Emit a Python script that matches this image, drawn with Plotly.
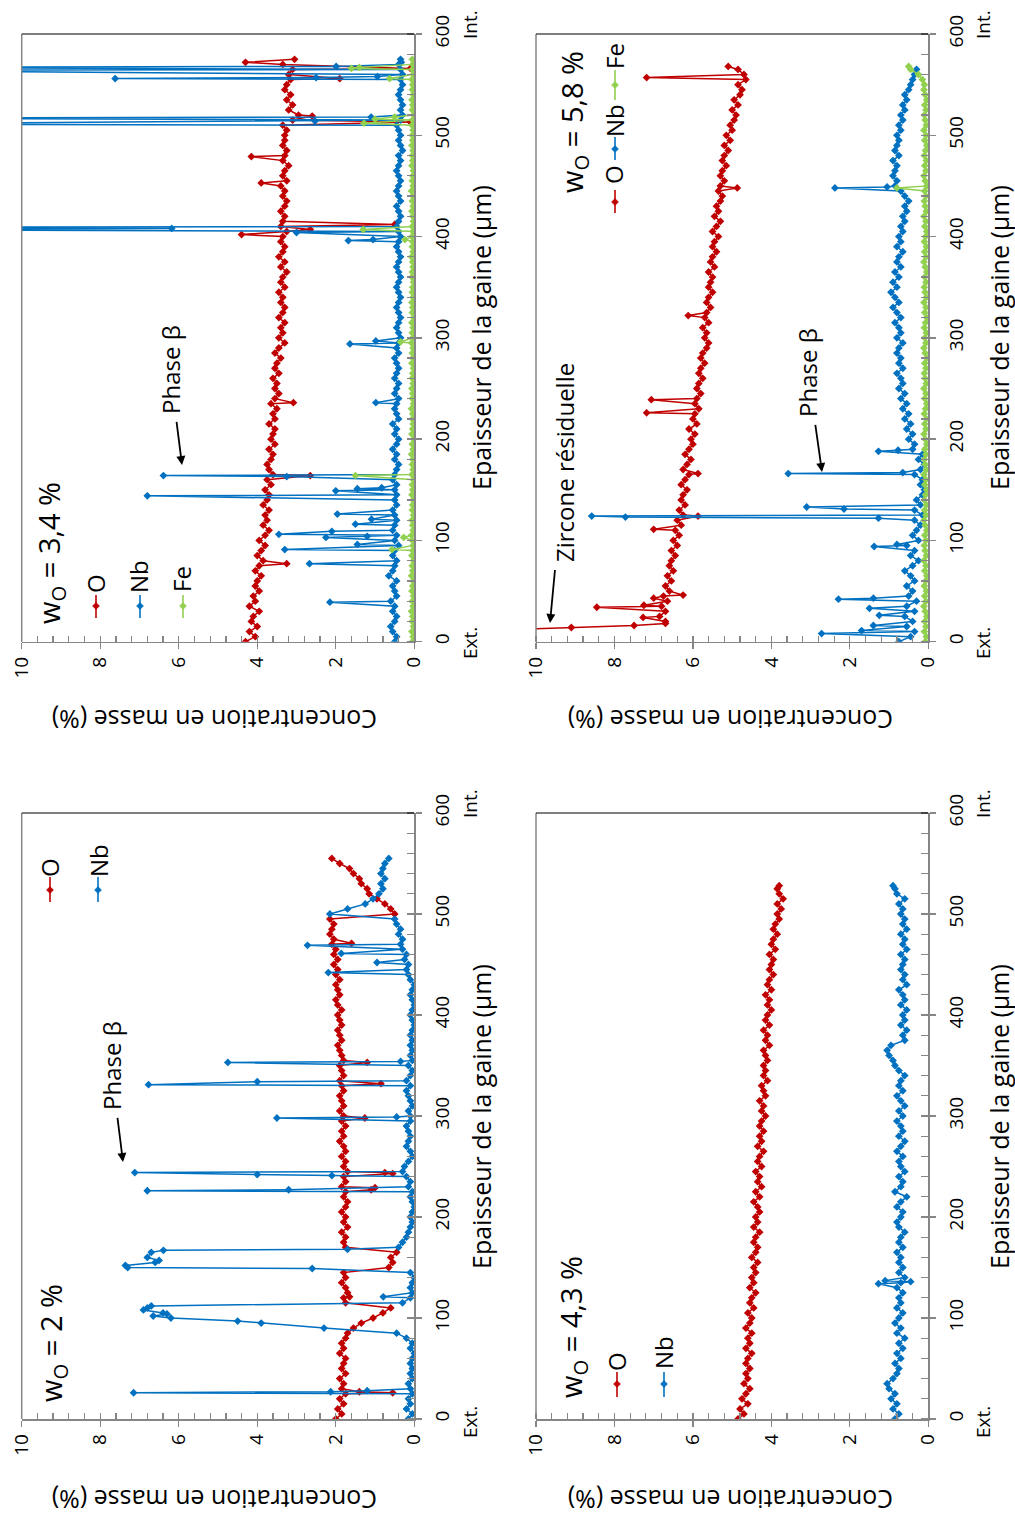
import plotly.graph_objects as go

FONT = "Open Sans"
OFF = 0
W, H = 1015, 1521
C_O, C_NB, C_FE = "#C00000", "#0070C0", "#92D050"

# ---------------- DATA ----------------
# Panel A : w_O = 3,4 %  (thickness grid 0..575 step 5)
T_A = list(range(0, 580, 5))
O_A = [4.30, 4.05, 4.20, 4.00, 4.15, 4.10, 3.95, 4.20, 4.05, 4.10,
       3.95, 4.05, 4.00, 3.90, 4.05, 3.95, 3.85, 4.00, 3.90, 3.80,
       3.95, 3.80, 3.70, 3.85, 3.75, 3.80, 3.70, 3.85, 3.75, 3.70,
       3.80, 3.65, 3.75, 3.60, 3.70, 3.75, 3.65, 3.60, 3.70, 3.55,
       3.65, 3.60, 3.55, 3.70, 3.55, 3.60, 3.50, 3.65, 3.55, 3.45,
       3.55, 3.50, 3.60, 3.45, 3.55, 3.50, 3.40, 3.55, 3.45, 3.30,
       3.45, 3.35, 3.40, 3.30, 3.45, 3.35, 3.30, 3.40, 3.35, 3.45,
       3.30, 3.40, 3.35, 3.25, 3.40, 3.30, 3.45, 3.35, 3.30, 3.40,
       3.35, 3.25, 3.40, 3.35, 3.30, 3.40, 3.30, 3.25, 3.35, 3.30,
       3.40, 3.25, 3.35, 3.30, 3.20, 3.35, 3.30, 3.25, 3.35, 3.30,
       3.30, 3.25, 3.35, 3.10, 2.95, 3.20, 3.10, 3.25, 3.15, 3.30,
       3.25, 3.15, 3.20, 3.10, 3.35, 3.05]
O_A_SPK = [(77, 3.25), (164, 2.65), (236, 3.08), (402, 4.4), (407, 2.65), (412, 0.5),
           (453, 3.9), (479, 4.15), (513, 0.1), (519, 2.6), (556, 1.9), (566, 0.1), (572, 4.3)]
NB_A = [0.50, 0.45, 0.55, 0.60, 0.50, 0.45, 0.55, 0.50, 0.60, 0.45,
        0.50, 0.55, 0.45, 0.65, 0.55, 0.50, 0.45, 0.55, 0.50, 0.40,
        0.50, 0.45, 0.55, 0.50, 0.45, 0.50, 0.55, 0.45, 0.50, 0.45,
        0.50, 0.45, 0.55, 0.50, 0.45, 0.40, 0.50, 0.45, 0.55, 0.45,
        0.40, 0.50, 0.45, 0.55, 0.40, 0.45, 0.50, 0.45, 0.40, 0.50,
        0.45, 0.40, 0.50, 0.45, 0.40, 0.45, 0.50, 0.40, 0.45, 0.40,
        0.35, 0.40, 0.45, 0.40, 0.35, 0.40, 0.45, 0.40, 0.35, 0.40,
        0.45, 0.40, 0.35, 0.40, 0.45, 0.40, 0.35, 0.40, 0.45, 0.40,
        0.35, 0.40, 0.45, 0.40, 0.35, 0.40, 0.45, 0.35, 0.40, 0.45,
        0.40, 0.35, 0.40, 0.45, 0.40, 0.35, 0.40, 0.30, 0.35, 0.40,
        0.35, 0.40, 0.45, 0.35, 0.30, 0.35, 0.30, 0.35, 0.40, 0.35,
        0.30, 0.35, 0.30, 0.35, 0.40, 0.35]
NB_A_SPK = [(39, 2.15), (77, 2.67), (91, 3.3), (96, 1.45), (103, 2.25), (104, 1.2), (106, 3.45),
            (109, 2.1), (116, 1.5), (121, 1.09), (126, 1.96), (144, 6.8), (149, 2.0), (151, 1.45),
            (152, 0.83), (163, 3.25), (164, 6.39), (236, 0.98), (294, 1.64), (297, 0.98),
            (396, 1.68), (397, 1.05), (404, 3.0), (407, 15), (408, 6.18), (409, 15),
            (511, 15), (514, 2.53), (517, 15), (518, 1.1), (556, 7.62), (557, 2.5), (558, 0.94),
            (564, 15), (567, 15), (568, 1.99), (572, 0.33)]
FE_A = [0.05, 0.03, 0.06, 0.02, 0.05, 0.04, 0.07, 0.03, 0.05, 0.02,
        0.06, 0.04, 0.03, 0.07, 0.04, 0.05, 0.02, 0.06, 0.04, 0.03,
        0.05, 0.07, 0.03, 0.04, 0.06, 0.02, 0.05, 0.04, 0.03, 0.06,
        0.04, 0.05, 0.02, 0.06, 0.03, 0.05, 0.04, 0.07, 0.03, 0.05,
        0.02, 0.06, 0.04, 0.03, 0.05, 0.04, 0.07, 0.02, 0.05, 0.04,
        0.06, 0.03, 0.05, 0.04, 0.02, 0.06, 0.04, 0.05, 0.03, 0.07,
        0.04, 0.05, 0.03, 0.06, 0.02, 0.05, 0.04, 0.06, 0.03, 0.05,
        0.04, 0.02, 0.06, 0.05, 0.03, 0.04, 0.07, 0.03, 0.05, 0.04,
        0.06, 0.03, 0.05, 0.02, 0.04, 0.06, 0.03, 0.05, 0.04, 0.07,
        0.03, 0.05, 0.04, 0.02, 0.06, 0.04, 0.05, 0.03, 0.06, 0.04,
        0.05, 0.03, 0.06, 0.04, 0.02, 0.05, 0.04, 0.06, 0.03, 0.05,
        0.04, 0.06, 0.03, 0.05, 0.04, 0.05]
FE_A_SPK = [(91, 0.57), (103, 0.27), (164, 1.5), (296, 0.35), (397, 0.24), (407, 1.3),
            (512, 1.28), (516, 1.0), (518, 0.5), (556, 0.63), (566, 1.6), (567, 1.4)]

# Panel B : w_O = 2 %  (grid 0..555 step 5)
T_B = list(range(0, 560, 5))
O_B = [2.00, 1.85, 1.95, 1.80, 1.90, 1.75, 1.85, 1.80, 1.90, 1.75,
       1.85, 1.80, 1.75, 1.90, 1.80, 1.85, 1.75, 1.70, 1.55, 1.35,
       1.05, 0.80, 0.60, 1.75, 1.80, 1.70, 1.75, 1.85, 1.75, 1.80,
       0.65, 0.55, 0.60, 0.45, 1.75, 1.80, 1.75, 1.85, 1.70, 1.80,
       1.75, 1.85, 1.75, 1.70, 1.80, 1.75, 1.85, 1.75, 1.80, 1.70,
       1.80, 1.75, 1.85, 1.75, 1.80, 1.90, 1.80, 1.85, 1.75, 1.85,
       1.80, 1.90, 1.80, 1.85, 1.90, 1.80, 1.85, 1.90, 1.80, 1.85,
       1.90, 1.80, 1.85, 1.90, 1.95, 1.85, 1.90, 1.95, 1.85, 1.90,
       1.95, 1.85, 1.95, 2.00, 1.90, 1.95, 2.00, 1.90, 2.00, 1.95,
       2.05, 1.95, 2.05, 2.00, 2.10, 2.05, 2.15, 2.10, 2.05, 2.15,
       0.50, 0.60, 0.75, 0.95, 1.15, 1.20, 1.35, 1.40, 1.55, 1.65,
       1.90, 2.10]
O_B_SPK = [(26, 0.55), (27, 1.4), (121, 1.65), (227, 1.1), (229, 1.0), (243, 0.55),
           (244, 0.75), (298, 1.26), (332, 0.85), (353, 1.2), (471, 1.6)]
NB_B = [0.15, 0.05, 0.20, 0.10, 0.15, 0.05, 0.10, 0.15, 0.05, 0.10,
        0.05, 0.10, 0.05, 0.00, 0.10, 0.05, 0.20, 0.45, 2.30, 3.90,
        6.20, 6.40, 6.80, 0.30, 0.10, 0.05, 0.10, 0.05, 0.00, 0.10,
        7.30, 6.60, 6.80, 6.70, 0.40, 0.30, 0.20, 0.15, 0.10, 0.05,
        0.10, 0.05, 0.00, 0.05, 0.10, 0.05, 0.15, 0.10, 0.20, 0.30,
        0.25, 0.15, 0.05, 0.10, 0.20, 0.15, 0.10, 0.15, 0.20, 0.10,
        0.10, 0.15, 0.05, 0.10, 0.15, 0.20, 0.10, 0.20, 0.10, 0.05,
        0.15, 0.05, 0.10, 0.05, 0.10, 0.05, 0.10, 0.05, 0.00, 0.05,
        0.10, 0.05, 0.00, 0.05, 0.10, 0.05, 0.00, 0.10, 0.15, 0.20,
        0.15, 0.25, 0.20, 0.30, 0.35, 0.30, 0.40, 0.35, 0.45, 0.50,
        2.15, 1.70, 1.25, 1.05, 0.90, 0.80, 0.85, 0.75, 0.85, 0.80,
        0.75, 0.65]
NB_B_SPK = [(26, 7.15), (27, 2.13), (28, 1.2), (97, 4.5), (102, 6.65), (104, 6.3), (108, 6.9),
            (112, 6.7), (121, 0.79), (149, 2.6), (152, 7.36), (157, 6.5), (167, 6.39), (168, 1.7),
            (226, 6.8), (227, 3.2), (241, 2.1), (242, 4.0), (244, 7.12), (298, 3.5), (299, 0.45),
            (331, 6.77), (334, 4.0), (353, 4.75), (354, 0.35), (442, 2.19), (452, 0.95),
            (461, 1.86), (469, 2.72)]

# Panel C : w_O = 5,8 %
T_C_O = list(range(20, 570, 5))
O_C = [6.70, 6.85, 6.70, 6.80, 6.65, 6.75, 6.60, 6.70, 6.55, 6.65,
       6.50, 6.60, 6.55, 6.45, 6.55, 6.40, 6.50, 6.35, 6.45, 6.30,
       6.40, 6.25, 6.35, 6.20, 6.30, 6.25, 6.15, 6.30, 6.20, 6.10,
       6.25, 6.15, 6.05, 6.20, 6.10, 6.00, 6.05, 5.95, 6.10, 5.90,
       6.00, 5.95, 5.85, 5.95, 5.90, 5.80, 5.90, 5.85, 5.75, 5.85,
       5.80, 5.70, 5.80, 5.75, 5.65, 5.60, 5.70, 5.65, 5.75, 5.60,
       5.70, 5.65, 5.55, 5.65, 5.60, 5.50, 5.60, 5.55, 5.50, 5.60,
       5.45, 5.55, 5.50, 5.40, 5.50, 5.45, 5.35, 5.50, 5.40, 5.30,
       5.45, 5.35, 5.40, 5.30, 5.25, 5.35, 5.30, 5.20, 5.30, 5.25,
       5.15, 5.25, 5.20, 5.10, 5.20, 5.05, 5.15, 5.00, 5.05, 4.95,
       4.90, 5.00, 4.85, 4.95, 4.80, 4.75, 4.85, 4.65, 4.70, 4.85]
O_C_SPK = [(12, 10.5), (14, 9.1), (16, 7.5), (18, 6.7), (24, 7.27), (34, 8.45), (36, 7.25),
           (43, 7.0), (46, 6.25), (111, 7.0), (124, 5.87), (166, 5.87), (226, 7.18), (239, 7.06),
           (322, 6.12), (448, 4.87), (557, 7.18), (568, 5.1)]
T_C = list(range(0, 570, 5))
NB_C = [0.75, 0.45, 0.35, 0.55, 0.40, 0.60, 0.35, 0.55, 0.30, 0.50,
        0.40, 0.55, 0.35, 0.45, 0.60, 0.40, 0.25, 0.45, 0.35, 0.55,
        0.25, 0.40, 0.30, 0.20, 0.35, 0.15, 0.35, 0.20, 0.30, 0.15,
        0.10, 0.20, 0.15, 0.35, 0.20, 0.10, 0.25, 0.15, 0.40, 0.35,
        0.50, 0.40, 0.55, 0.45, 0.60, 0.50, 0.65, 0.55, 0.70, 0.60,
        0.75, 0.65, 0.70, 0.80, 0.65, 0.75, 0.70, 0.80, 0.75, 0.65,
        0.80, 0.70, 0.75, 0.85, 0.70, 0.80, 0.90, 0.75, 0.85, 0.95,
        0.80, 0.90, 0.75, 0.85, 0.70, 0.80, 0.75, 0.65, 0.80, 0.70,
        0.75, 0.65, 0.70, 0.60, 0.65, 0.55, 0.60, 0.50, 0.60, 0.70,
        0.85, 0.80, 0.90, 0.85, 0.80, 0.90, 0.75, 0.85, 0.80, 0.75,
        0.80, 0.70, 0.75, 0.65, 0.70, 0.60, 0.65, 0.55, 0.60, 0.50,
        0.45, 0.40, 0.35, 0.30]
NB_C_SPK = [(8, 2.72), (11, 1.7), (16, 1.4), (26, 1.25), (33, 1.5), (42, 2.29), (43, 1.4),
            (94, 1.38), (96, 0.8), (122, 1.27), (123, 7.72), (124, 8.58), (131, 2.15), (133, 3.1),
            (166, 3.57), (167, 0.65), (188, 1.27), (189, 0.77), (448, 2.38), (449, 1.05)]
FE_C = [0.08, 0.05, 0.10, 0.06, 0.09, 0.04, 0.08, 0.11, 0.06, 0.09,
        0.05, 0.10, 0.07, 0.04, 0.09, 0.06, 0.11, 0.05, 0.08, 0.10,
        0.06, 0.09, 0.04, 0.08, 0.11, 0.06, 0.09, 0.05, 0.10, 0.07,
        0.04, 0.09, 0.06, 0.11, 0.05, 0.08, 0.10, 0.06, 0.09, 0.04,
        0.08, 0.11, 0.06, 0.09, 0.05, 0.10, 0.07, 0.04, 0.09, 0.06,
        0.11, 0.05, 0.08, 0.10, 0.06, 0.09, 0.04, 0.08, 0.11, 0.06,
        0.09, 0.05, 0.10, 0.07, 0.04, 0.09, 0.06, 0.11, 0.05, 0.08,
        0.10, 0.06, 0.09, 0.04, 0.08, 0.11, 0.06, 0.09, 0.05, 0.10,
        0.07, 0.04, 0.09, 0.06, 0.11, 0.05, 0.08, 0.10, 0.06, 0.09,
        0.04, 0.08, 0.11, 0.06, 0.09, 0.05, 0.10, 0.07, 0.04, 0.09,
        0.06, 0.11, 0.05, 0.08, 0.10, 0.06, 0.09, 0.04, 0.08, 0.11,
        0.10, 0.15, 0.25, 0.45]
FE_C_SPK = [(448, 0.8), (568, 0.5)]

# Panel D : w_O = 4,3 %  (grid 0..525 step 5)
T_D = list(range(0, 530, 5))
O_D = [4.85, 4.70, 4.80, 4.60, 4.75, 4.65, 4.55, 4.70, 4.60, 4.65,
       4.55, 4.65, 4.60, 4.50, 4.65, 4.55, 4.60, 4.50, 4.65, 4.55,
       4.50, 4.60, 4.45, 4.55, 4.50, 4.40, 4.55, 4.45, 4.50, 4.40,
       4.45, 4.35, 4.50, 4.40, 4.35, 4.45, 4.40, 4.30, 4.45, 4.35,
       4.40, 4.30, 4.35, 4.45, 4.30, 4.40, 4.25, 4.35, 4.30, 4.40,
       4.25, 4.35, 4.30, 4.20, 4.35, 4.25, 4.30, 4.20, 4.30, 4.25,
       4.15, 4.25, 4.20, 4.30, 4.15, 4.20, 4.25, 4.10, 4.20, 4.15,
       4.20, 4.10, 4.15, 4.20, 4.05, 4.15, 4.10, 4.20, 4.05, 4.15,
       4.10, 4.00, 4.10, 4.05, 4.15, 4.00, 4.10, 4.05, 3.95, 4.05,
       4.00, 3.95, 4.05, 3.90, 4.00, 3.95, 3.85, 3.95, 3.90, 3.80,
       3.85, 3.75, 3.85, 3.70, 3.80, 3.85]
O_D_SPK = [(528, 3.80)]
NB_D = [0.85, 0.75, 0.90, 0.80, 0.95, 0.85, 1.00, 1.05, 0.90, 0.80,
        0.75, 0.85, 0.70, 0.80, 0.65, 0.75, 0.60, 0.80, 0.70, 0.85,
        0.75, 0.65, 0.80, 0.70, 0.75, 0.65, 0.80, 0.70, 0.60, 0.75,
        0.65, 0.75, 0.70, 0.80, 0.65, 0.75, 0.70, 0.60, 0.75, 0.80,
        0.70, 0.65, 0.80, 0.70, 0.55, 0.85, 0.70, 0.65, 0.75, 0.60,
        0.70, 0.75, 0.65, 0.80, 0.70, 0.60, 0.75, 0.65, 0.70, 0.80,
        0.65, 0.75, 0.60, 0.70, 0.80, 0.65, 0.75, 0.70, 0.60, 0.75,
        0.85, 0.90, 1.00, 1.05, 0.95, 0.60, 0.65, 0.55, 0.70, 0.60,
        0.65, 0.55, 0.70, 0.60, 0.65, 0.75, 0.55, 0.65, 0.60, 0.70,
        0.65, 0.60, 0.70, 0.55, 0.65, 0.60, 0.70, 0.55, 0.65, 0.60,
        0.70, 0.65, 0.75, 0.60, 0.80, 0.85]
NB_D_SPK = [(134, 1.27), (136, 0.45), (137, 1.1), (528, 0.9)]

X_TICKS = [0, 2, 4, 6, 8, 10]
Y_TICKS = [0, 100, 200, 300, 400, 500, 600]


def merge(grid_t, grid_v, spikes):
    pts = list(zip(grid_t, grid_v)) + list(spikes)
    pts.sort(key=lambda p: p[0])
    return [p[1] for p in pts], [p[0] for p in pts]


def px(x):
    return (x - OFF) / W


def py(y):
    return 1 - (y - OFF) / H


fig = go.Figure()

panels = {
    "A": dict(xa="x", ya="y", series=[(T_A, O_A, O_A_SPK, C_O, "O"), (T_A, NB_A, NB_A_SPK, C_NB, "Nb"),
                                       (T_A, FE_A, FE_A_SPK, C_FE, "Fe")]),
    "C": dict(xa="x2", ya="y2", series=[(T_C_O, O_C, O_C_SPK, C_O, "O"), (T_C, NB_C, NB_C_SPK, C_NB, "Nb"),
                                         (T_C, FE_C, FE_C_SPK, C_FE, "Fe")]),
    "B": dict(xa="x3", ya="y3", series=[(T_B, O_B, O_B_SPK, C_O, "O"), (T_B, NB_B, NB_B_SPK, C_NB, "Nb")]),
    "D": dict(xa="x4", ya="y4", series=[(T_D, O_D, O_D_SPK, C_O, "O"), (T_D, NB_D, NB_D_SPK, C_NB, "Nb")]),
}

for key, p in panels.items():
    for t, v, spk, col, name in p["series"]:
        xs, ys = merge(t, v, spk)
        fig.add_trace(go.Scatter(x=xs, y=ys, xaxis=p["xa"], yaxis=p["ya"], mode="lines+markers",
                                 name=name, showlegend=False,
                                 line=dict(color=col, width=1.5),
                                 marker=dict(symbol="diamond", size=6, color=col)))

L_DOM = [px(21.7), px(414.3)]
R_DOM = [px(536), px(928.3)]
T_DOM = [py(641.7), py(34)]
B_DOM = [py(1419), py(813)]

AXC = "#868686"


def xaxis(domain, anchor):
    return dict(domain=domain, anchor=anchor, range=[10, 0], tickmode="array", tickvals=X_TICKS,
                automargin=False, ticklabeloverflow="allow",
                tickangle=-90, ticks="outside", ticklen=6, tickwidth=1.3, tickcolor=AXC,
                showline=True, linecolor=AXC, linewidth=1.5, showgrid=False, zeroline=False,
                tickfont=dict(size=19, color="black", family=FONT),
                minor=dict(ticks="inside", dtick=0.4, tick0=0, ticklen=6, tickwidth=1.3,
                           tickcolor=AXC, showgrid=False))


def yaxis(domain, anchor):
    return dict(domain=domain, anchor=anchor, range=[0, 600], tickmode="array", tickvals=Y_TICKS,
                automargin=False, ticklabeloverflow="allow",
                side="right", tickangle=-90, ticks="outside", ticklen=6, tickwidth=1.3, tickcolor=AXC,
                showline=True, linecolor=AXC, linewidth=1.5, showgrid=False, zeroline=False,
                tickfont=dict(size=19, color="black", family=FONT), ticklabelstandoff=4,
                minor=dict(ticks="inside", dtick=20, tick0=0, ticklen=7, tickwidth=1.3,
                           tickcolor=AXC, showgrid=False))


fig.update_layout(
    width=W, height=H, margin=dict(l=0, r=0, t=0, b=0, pad=0, autoexpand=False),
    paper_bgcolor="white", plot_bgcolor="white",
    font=dict(family=FONT, color="black"),
    xaxis=xaxis(L_DOM, "y"), yaxis=yaxis(T_DOM, "x"),
    xaxis2=xaxis(R_DOM, "y2"), yaxis2=yaxis(T_DOM, "x2"),
    xaxis3=xaxis(L_DOM, "y3"), yaxis3=yaxis(B_DOM, "x3"),
    xaxis4=xaxis(R_DOM, "y4"), yaxis4=yaxis(B_DOM, "x4"),
)

shapes = []
for xa, ya in [("x", "y"), ("x2", "y2"), ("x3", "y3"), ("x4", "y4")]:
    shapes.append(dict(type="line", xref=xa + " domain", yref=ya + " domain", x0=0, x1=0, y0=0, y1=1,
                       line=dict(color=AXC, width=1.5)))
    shapes.append(dict(type="line", xref=xa + " domain", yref=ya + " domain", x0=0, x1=1, y0=1, y1=1,
                       line=dict(color="black", width=1.2)))


def legend_glyph(xc, ytop, ybot, ymid, color):
    out = [dict(type="line", xref="paper", yref="paper", x0=px(xc), x1=px(xc),
                y0=py(ytop), y1=py(ybot), line=dict(color=color, width=1.6))]
    d = 3.5
    path = "M {} {} L {} {} L {} {} L {} {} Z".format(px(xc), py(ymid - d), px(xc + d), py(ymid),
                                                      px(xc), py(ymid + d), px(xc - d), py(ymid))
    out.append(dict(type="path", xref="paper", yref="paper", path=path, fillcolor=color,
                    line=dict(color=color, width=0.5)))
    return out


# legends
shapes += legend_glyph(96, 595, 618, 606, C_O)
shapes += legend_glyph(140, 595, 618, 606, C_NB)
shapes += legend_glyph(183, 595, 618, 606, C_FE)
shapes += legend_glyph(50, 877, 902, 890, C_O)
shapes += legend_glyph(98, 877, 902, 890, C_NB)
shapes += legend_glyph(615, 190, 213, 202, C_O)
shapes += legend_glyph(615, 137, 160, 149, C_NB)
shapes += legend_glyph(615, 70, 100, 85, C_FE)
shapes += legend_glyph(617, 1372, 1397, 1384, C_O)
shapes += legend_glyph(664, 1372, 1397, 1384, C_NB)

fig.update_layout(shapes=shapes)


def txt(text, x, y, size, angle=-90):
    return dict(text=text, x=px(x), y=py(y), xref="paper", yref="paper", showarrow=False,
                textangle=angle, font=dict(size=size, color="black", family=FONT),
                xanchor="center", yanchor="middle")


def label_arrow(text, center, head, size=24):
    return dict(text=text, x=px(head[0]), y=py(head[1]), xref="paper", yref="paper",
                ax=center[0] - head[0], ay=center[1] - head[1], showarrow=True, textangle=-90,
                font=dict(size=size, color="black", family=FONT), standoff=0, startstandoff=6,
                arrowhead=2, arrowsize=1, arrowwidth=1.8, arrowcolor="black")


ann = []
for xc in (470, 983):
    for yc0 in (0, 779):
        ann.append(txt("Ext.", xc, 643 + yc0, 19))
        ann.append(txt("Int.", xc, 25 + yc0, 19))
for xc in (481, 999):
    for yc in (338, 1117):
        ann.append(txt("Epaisseur de la gaine (µm)", xc, yc, 25))
for xc in (215, 731):
    for yc in (720, 1500):
        ann.append(txt("Concentration en masse (%)", xc, yc, 25, angle=180))

ann.append(txt("w<sub>O</sub> = 3,4 %", 50, 553, 29))
ann.append(txt("w<sub>O</sub> = 2 %", 52, 1343, 29))
ann.append(txt("w<sub>O</sub> = 5,8 %", 573, 122, 29))
ann.append(txt("w<sub>O</sub> = 4,3 %", 572, 1327, 29))

ann.append(txt("O", 95, 584, 24))
ann.append(txt("Nb", 138, 577, 24))
ann.append(txt("Fe", 182, 579, 24))
ann.append(txt("O", 50, 868, 24))
ann.append(txt("Nb", 98, 861, 24))
ann.append(txt("O", 614, 175, 24))
ann.append(txt("Nb", 614, 121, 24))
ann.append(txt("Fe", 614, 56, 24))
ann.append(txt("O", 616, 1362, 24))
ann.append(txt("Nb", 663, 1353, 24))

ann.append(label_arrow("Phase β", (170, 370), (182, 465)))
ann.append(label_arrow("Phase β", (111, 1066), (123, 1162)))
ann.append(label_arrow("Phase β", (808, 373), (822, 472)))
ann.append(label_arrow("Zircone résiduelle", (565, 463), (550, 623)))

fig.update_layout(annotations=ann)

fig.write_html(
    "out.html",
    config={"displayModeBar": False, "staticPlot": True},
    post_script=("document.documentElement.style.margin='0px';"
                 "document.body.style.margin='0px';"
                 "document.body.style.overflow='hidden';"
                 "document.documentElement.style.overflow='hidden';"),
)
